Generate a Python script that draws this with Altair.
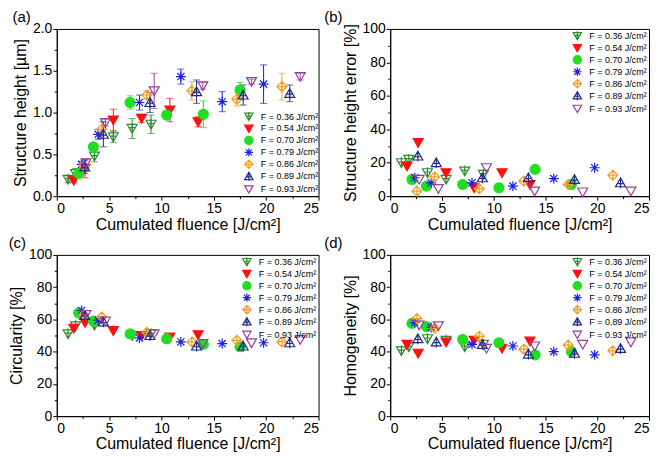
import altair as alt
import pandas as pd

series_names = ["F = 0.36 J/cm²", "F = 0.54 J/cm²", "F = 0.70 J/cm²", "F = 0.79 J/cm²",
                "F = 0.86 J/cm²", "F = 0.89 J/cm²", "F = 0.93 J/cm²"]

fluence = [
    [1.08, 1.8, 3.6, 5.4, 7.2, 9.0],
    [1.62, 2.7, 5.4, 8.1, 10.8, 13.5],
    [2.1, 3.5, 7.0, 10.5, 14.0, 17.5],
    [2.37, 3.95, 7.9, 11.85, 15.8, 19.75],
    [2.58, 4.3, 8.6, 12.9, 17.2, 21.5],
    [2.67, 4.45, 8.9, 13.35, 17.8, 22.25],
    [2.79, 4.65, 9.3, 13.95, 18.6, 23.25],
]
height = [
    [0.20, 0.27, 0.48, 0.71, 0.81, 0.86],
    [0.19, 0.33, 0.91, 0.93, 1.03, 0.89],
    [0.27, 0.59, 1.12, 0.97, 0.98, 1.27],
    [0.38, 0.74, 1.12, 1.43, 1.13, 1.34],
    [0.36, 0.80, 1.21, 1.26, 1.16, 1.31],
    [0.35, 0.74, 1.12, 1.25, 1.21, 1.23],
    [0.40, 0.88, 1.26, 1.32, 1.37, 1.43],
]
height_err = [
    [0.04, 0.06, 0.07, 0.07, 0.12, 0.11],
    [0.03, 0.11, 0.13, 0.05, 0.14, 0.06],
    [0.03, 0.035, 0.08, 0.05, 0.16, 0.09],
    [0.04, 0.06, 0.09, 0.09, 0.12, 0.23],
    [0.01, 0.09, 0.05, 0.11, 0.08, 0.16],
    [0.08, 0.15, 0.12, 0.14, 0.12, 0.10],
    [0.04, 0.04, 0.21, 0.04, 0.03, 0.04],
]
height_err_pct = [
    [20, 22, 14, 10, 15, 13],
    [18, 32, 14, 5, 14, 7],
    [10, 6, 7, 5, 16, 7],
    [11, 8, 8, 6, 10.5, 17],
    [3, 11.5, 4.5, 9, 7, 12.5],
    [24, 20, 11, 11, 10, 8],
    [10, 4.5, 17, 3, 2.5, 3],
]
circularity = [
    [51, 56, 56.5, 53, 50, 51],
    [54.5, 58, 53, 50, 49, 50.5],
    [64, 59, 51, 48, 44.5, 43],
    [65.5, 59.5, 48.5, 46, 45, 45.5],
    [63, 61.5, 52, 46, 47, 46],
    [62.5, 58.5, 50, 43.5, 43.5, 45.5],
    [63, 59, 51, 45, 45.5, 47.5],
]
homogeneity = [
    [40.5, 43, 48, 47, 43, 44.5],
    [44.5, 39, 46, 47, 42, 46.5],
    [57.5, 55.5, 47.5, 45.5, 38, 40],
    [58, 55, 44.5, 43.5, 40, 38],
    [60.5, 54.5, 49.5, 41.5, 44, 40.5],
    [48, 46, 44.5, 38.5, 39, 42],
    [56.5, 56, 42, 43.5, 44.5, 46],
]

x_ticks = [0, 2.5, 5, 7.5, 10, 12.5, 15, 17.5, 20, 22.5, 25]
h_ticks = [0, 0.25, 0.5, 0.75, 1.0, 1.25, 1.5, 1.75, 2.0]
pct_ticks = [0, 10, 20, 30, 40, 50, 60, 70, 80, 90, 100]

colors = ["#2e8b2e", "#ff1010", "#22dd22", "#1f1fe6", "#f39c26", "#1f2a8a", "#9b3d9b"]
fills = ["transparent", "#ff1010", "#22dd22", "transparent", "transparent", "transparent", "transparent"]
shapes = [
    "M-1,-0.8L1,-0.8L0,0.95Z M0,-1.1L0,0.95 M-0.55,-0.15L0.55,-0.15",
    "M-1,-0.8L1,-0.8L0,0.95Z",
    "circle",
    "M-1,0L1,0 M0,-1L0,1 M-0.72,-0.72L0.72,0.72 M-0.72,0.72L0.72,-0.72",
    "M0,-1L1,0L0,1L-1,0Z M0,-1L0,1 M-1,0L1,0",
    "M-1,0.8L1,0.8L0,-0.95Z M0,-0.95L0,1.1 M-0.55,0.15L0.55,0.15",
    "M-1,-0.8L1,-0.8L0,0.95Z",
]

rows = []
for i, name in enumerate(series_names):
    for j in range(len(fluence[i])):
        rows.append({
            "series": name,
            "x": fluence[i][j],
            "height": height[i][j],
            "herr": height_err[i][j],
            "errpct": height_err_pct[i][j],
            "circ": circularity[i][j],
            "homog": homogeneity[i][j],
        })
df = pd.DataFrame(rows)

FONT = "Liberation Sans"

x_scale = alt.Scale(domain=[0, 25], nice=False, zero=False)
x_axis = alt.Axis(
    title="Cumulated fluence [J/cm²]", values=x_ticks,
    labelExpr="datum.value % 5 == 0 ? format(datum.value, 'd') : ''",
    tickSize={"condition": {"test": "datum.value % 5 != 0", "value": 2.5}, "value": 4},
)


def legend(orient, offset):
    return alt.Legend(title=None, orient=orient, offset=offset, padding=0,
                      labelFont=FONT, labelFontSize=9, symbolSize=70,
                      rowPadding=-2, labelOffset=7, symbolStrokeWidth=1.2)


def panel(field, ytitle, ydom, yticks, minor_test, fmt, label, orient, w, h, dx,
          lg_offset, errorbars=False):
    y_scale = alt.Scale(domain=ydom, nice=False, zero=False)
    y_axis = alt.Axis(
        title=ytitle, values=yticks,
        labelExpr=f"({minor_test}) ? '' : format(datum.value, '{fmt}')",
        tickSize={"condition": {"test": minor_test, "value": 2.5}, "value": 4},
    )
    base = alt.Chart(df)
    lg = legend(orient, lg_offset)
    pts = base.mark_point(filled=True, opacity=1, size=100, strokeWidth=1.2).encode(
        x=alt.X("x:Q", scale=x_scale, axis=x_axis),
        y=alt.Y(f"{field}:Q", scale=y_scale, axis=y_axis),
        shape=alt.Shape("series:N", scale=alt.Scale(domain=series_names, range=shapes), legend=lg),
        fill=alt.Fill("series:N", scale=alt.Scale(domain=series_names, range=fills), legend=lg),
        stroke=alt.Stroke("series:N", scale=alt.Scale(domain=series_names, range=colors), legend=lg),
    )
    layers = []
    if errorbars:
        eb = base.transform_calculate(
            lo=f"datum.{field} - datum.herr", hi=f"datum.{field} + datum.herr")
        col = alt.Color("series:N", scale=alt.Scale(domain=series_names, range=colors), legend=None)
        rule = eb.mark_rule(strokeWidth=1).encode(
            x=alt.X("x:Q", scale=x_scale, axis=x_axis),
            y=alt.Y("lo:Q", scale=y_scale, axis=y_axis),
            y2="hi:Q", color=col)
        t1 = eb.mark_tick(orient="horizontal", size=7, thickness=1).encode(
            x=alt.X("x:Q", scale=x_scale, axis=x_axis),
            y=alt.Y("lo:Q", scale=y_scale, axis=y_axis), color=col)
        t2 = eb.mark_tick(orient="horizontal", size=7, thickness=1).encode(
            x=alt.X("x:Q", scale=x_scale, axis=x_axis),
            y=alt.Y("hi:Q", scale=y_scale, axis=y_axis), color=col)
        layers = [rule, t1, t2]
    ch = alt.layer(*layers, pts) if layers else pts
    return ch.properties(
        width=w, height=h,
        title=alt.TitleParams(label, anchor="start", frame="bounds", dx=dx, offset=-3),
    )


pa = panel("height", "Structure height [µm]", [0, 2], h_ticks,
           "(datum.value * 4) % 2 != 0", ".1f", "(a)", "bottom-right", 263, 168, 0,
           0, errorbars=True)
pb = panel("errpct", "Structure height error [%]", [0, 100], pct_ticks,
           "datum.value % 20 != 0", "d", "(b)", "top-right", 260, 168, -18, 2)
pc = panel("circ", "Circularity [%]", [0, 100], pct_ticks,
           "datum.value % 20 != 0", "d", "(c)", "top-right", 263, 162, 0, 2)
pd_ = panel("homog", "Homogeneity [%]", [0, 100], pct_ticks,
            "datum.value % 20 != 0", "d", "(d)", "top-right", 260, 162, -18, 2)

chart = alt.concat(pa, pb, pc, pd_, columns=2, spacing={"row": 2, "column": 4}).configure_axis(
    labelFont=FONT, labelFontSize=14, titleFont=FONT, titleFontSize=16,
    titleFontWeight="normal", labelColor="black", titleColor="black",
    domainColor="black", tickColor="black", grid=False, labelPadding=1,
).configure_axisX(titlePadding=1).configure_axisY(titlePadding=4).configure_view(
    stroke="black", strokeWidth=1
).configure_title(
    font=FONT, fontSize=15, fontWeight="normal", color="black"
).properties(background="white", padding=0)

chart.save("out.html", embed_options={"renderer": "svg", "actions": False})
